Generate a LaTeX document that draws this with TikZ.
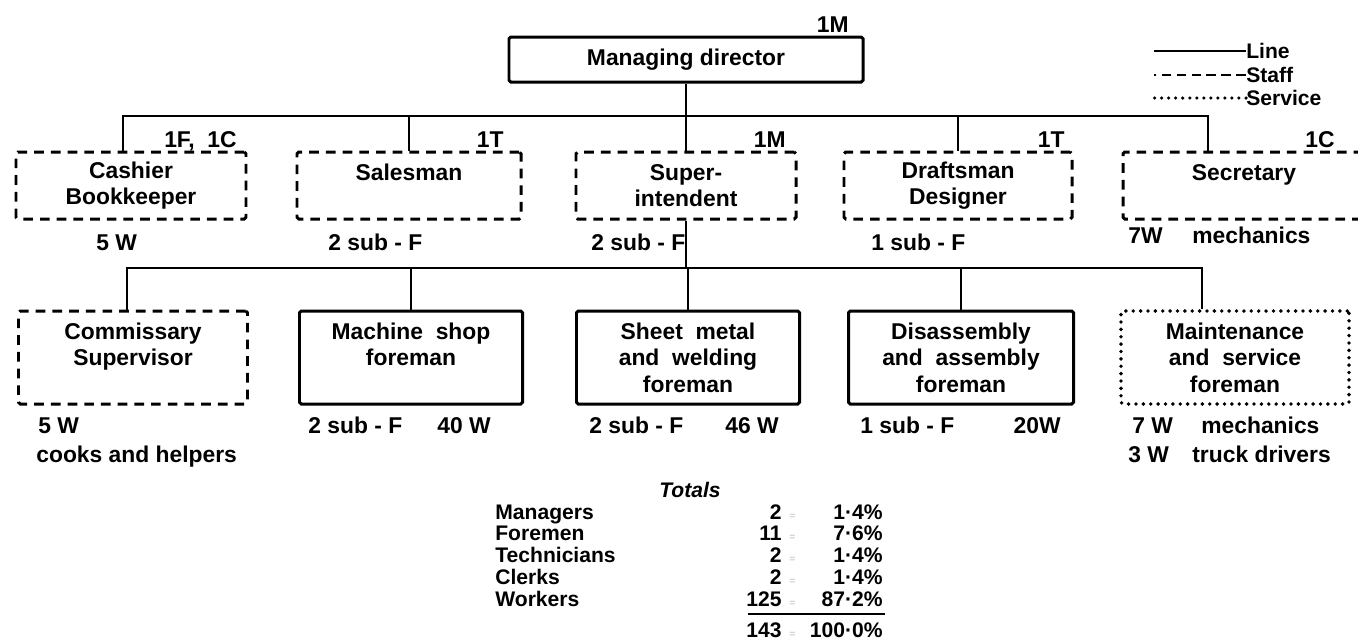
\documentclass[tikz,border=0pt]{standalone}
\usepackage{fontspec}
\setmainfont{Liberation Sans}

\begin{document}
\begin{tikzpicture}[x=0.2mm,y=-0.2mm,
  font=\fontsize{13}{15}\selectfont\bfseries,
  wire/.style={line width=1.4pt},
  post/.style={draw,line width=1.7pt,align=center,inner sep=0pt,rounded corners=1pt},
  linebox/.style={post},
  staffbox/.style={post,dash pattern=on 5.5pt off 4pt},
  servbox/.style={post,line cap=round,line width=2.2pt,dash pattern=on 0pt off 4.2pt},
  top/.style={minimum height=13.4mm},
  low/.style={minimum height=18.6mm},
  tally/.style={inner sep=0pt,anchor=base east},
  note/.style={inner sep=0pt,anchor=base west},
  legtext/.style={inner sep=0pt,anchor=west,font=\fontsize{12}{14}\selectfont\bfseries},
  rowname/.style={inner sep=0pt,anchor=base west,font=\fontsize{12}{14}\selectfont\bfseries},
  rownum/.style={inner sep=0pt,anchor=base east,font=\fontsize{12}{13}\selectfont\bfseries},
  eqmark/.style={inner sep=0pt,anchor=base west,text=gray!55,font=\fontsize{6}{7}\selectfont}]

  \useasboundingbox (0,0) rectangle (1358,641);

  % head
  \node[linebox,minimum width=70.8mm,minimum height=9mm] (md) at (686,59.5) {Managing director};
  \node[tally] (mdT) at (849,32) {1M};

  % first level
  \node[staffbox,top,minimum width=46mm]   (cash)  at (131,185.5)  {Cashier\\Bookkeeper};
  \node[staffbox,top,minimum width=44.8mm] (sales) at (409,185.5)  {Salesman\\\mbox{}};
  \node[staffbox,top,minimum width=44mm]   (super) at (686,185.5)  {Super-\\intendent};
  \node[staffbox,top,minimum width=45.6mm] (draft) at (958,185.5)  {Draftsman\\Designer};
  \node[staffbox,top,minimum width=48.4mm] (secr)  at (1244,185.5) {Secretary\\\mbox{}};

  \node[tally] (cashT)  at (237,147)  {1F,\ \ 1C};
  \node[tally] (salesT) at (504,147)  {1T};
  \node[tally] (superT) at (786,147)  {1M};
  \node[tally] (draftT) at (1065,147) {1T};
  \node[tally] (secrT)  at (1335,147) {1C};

  \node[note] (cashW)  at (96,250)   {5 W};
  \node[note] (salesF) at (328,250)  {2 sub - F};
  \node[note] (superF) at (591,250)  {2 sub - F};
  \node[note] (draftF) at (871,250)  {1 sub - F};
  \node[note] (secrW)  at (1128,243) {7W};
  \node[note] (secrM)  at (1192,243) {mechanics};

  % second level
  \node[staffbox,low,minimum width=45.8mm] (comm)  at (133,357.5)  {Commissary\\Supervisor\\\mbox{}};
  \node[linebox,low,minimum width=44.6mm]  (mach)  at (411,357.5)  {Machine\ \ shop\\foreman\\\mbox{}};
  \node[linebox,low,minimum width=44.6mm]  (sheet) at (688,357.5)  {Sheet\ \ metal\\and\ \ welding\\foreman};
  \node[linebox,low,minimum width=45mm]    (disas) at (961,357.5)  {Disassembly\\and\ \ assembly\\foreman};
  \node[servbox,low,minimum width=45.6mm]  (maint) at (1235,357.5) {Maintenance\\and\ \ service\\foreman};

  \node[note] (commW)  at (38,433)   {5 W};
  \node[note] (commH)  at (36,462)   {cooks and helpers};
  \node[note] (machF)  at (308,433)  {2 sub - F};
  \node[tally] (machW) at (491,433)  {40 W};
  \node[note] (sheetF) at (589,433)  {2 sub - F};
  \node[tally] (sheetW) at (779,433) {46 W};
  \node[note] (disasF) at (860,433)  {1 sub - F};
  \node[tally] (disasW) at (1061,433) {20W};
  \node[note] (maintW) at (1132,433) {7 W};
  \node[note] (maintM) at (1201,433) {mechanics};
  \node[note] (maintD) at (1128,462) {3 W};
  \node[note] (maintT) at (1192,462) {truck drivers};

  % connectors
  \coordinate (bus1) at (686,116);
  \coordinate (cashin) at ([xshift=-1.6mm]cash.north);
  \coordinate (secrin) at ([xshift=-7.2mm]secr.north);
  \draw[wire] (md.south) -- (bus1);
  \draw[wire] (cashin) |- (bus1) -| (secrin);
  \foreach \n in {sales,super,draft}
    \draw[wire] (\n.north) -- (\n.north |- bus1);

  \coordinate (bus2) at (686,268);
  \coordinate (commin) at ([xshift=-1.2mm]comm.north);
  \coordinate (maintin) at ([xshift=-6.6mm]maint.north);
  \draw[wire] (super.south) -- (bus2);
  \draw[wire] (commin) |- (bus2) -| (maintin);
  \foreach \n in {mach,sheet,disas}
    \draw[wire] (\n.north) -- (\n.north |- bus2);

  % key
  \node[legtext] (keyline)  at (1246,51) {Line};
  \node[legtext] (keystaff) at (1246,75) {Staff};
  \node[legtext] (keyserv)  at (1246,98) {Service};
  \draw[wire] (keyline.west) -- ++(-92,0);
  \draw[wire,dash pattern=on 5.5pt off 3pt] (keystaff.west) -- ++(-92,0);
  \draw[line width=2pt,line cap=round,dash pattern=on 0pt off 4pt] (keyserv.west) -- ++(-92,0);

  % totals
  \node[font=\fontsize{12}{14}\selectfont\bfseries\itshape] (totals) at (690,490) {Totals};
  \foreach \what/\num/\pct [count=\i] in
      {Managers/2/1·4,Foremen/11/7·6,Technicians/2/1·4,Clerks/2/1·4,Workers/125/87·2} {
    \pgfmathsetmacro\ry{497.5+21.7*\i}
    \node[rowname] (name\i) at (495,\ry) {\what};
    \node[rownum]  (num\i)  at (782,\ry) {\num};
    \node[eqmark]  (eq\i)   at (789,\ry) {=};
    \node[rownum]  (pct\i)  at (883,\ry) {\pct\%};
  }
  \draw[line width=0.6pt] (748,614) -- (885,614);
  \node[rownum] (numsum) at (782,637) {143};
  \node[eqmark] (eqsum)  at (789,637) {=};
  \node[rownum] (pctsum) at (883,637) {100·0\%};
\end{tikzpicture}
\end{document}
